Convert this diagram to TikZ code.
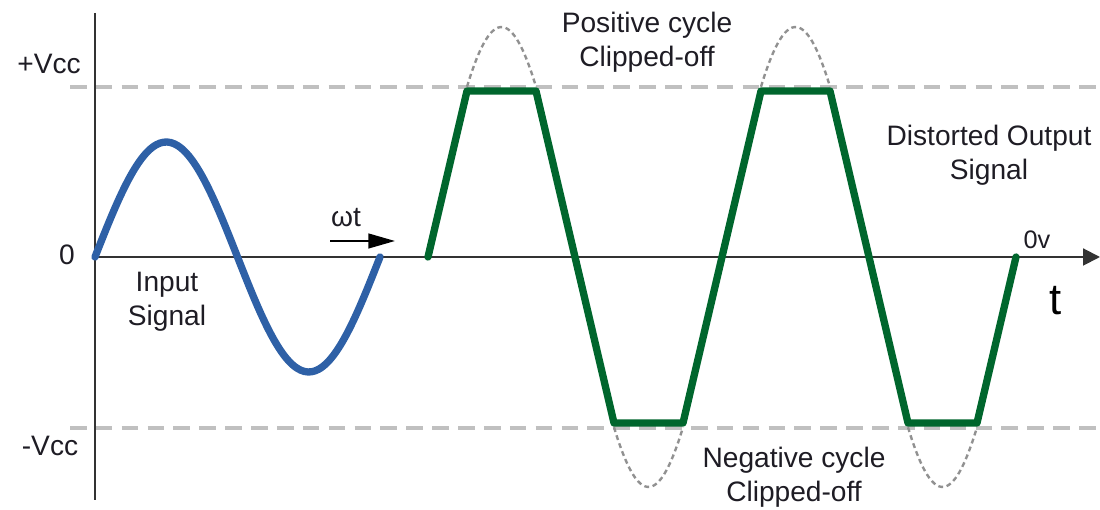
\documentclass[tikz,border=0pt]{standalone}
\usepackage{fontspec}
\setmainfont{Liberation Sans}
\usepackage{xcolor}
\usetikzlibrary{arrows.meta,positioning}

\definecolor{inblue}{RGB}{46,96,166}
\definecolor{outgreen}{RGB}{0,102,45}
\definecolor{railgray}{RGB}{192,192,192}
\definecolor{ghostgray}{RGB}{145,145,145}
\definecolor{labelink}{RGB}{30,28,36}

\begin{document}
\begin{tikzpicture}[x=0.025cm, y=0.025cm, >=Triangle]
    \tikzset{
        axis/.style={draw=black!80, line width=1.4pt},
        rail/.style={draw=railgray, line width=2.2pt, dash pattern=on 11.8pt off 6.6pt},
        ghost/.style={draw=ghostgray, line width=1.7pt, dash pattern=on 3.5pt off 2.5pt},
        insig/.style={draw=inblue, line width=5.2pt, line cap=round},
        outsig/.style={draw=outgreen, line width=5.2pt, line cap=round, line join=round},
        txt/.style={text=labelink, font=\fontsize{20}{24}\selectfont, align=center, inner sep=0pt}
    }
    \useasboundingbox (-95,-253) rectangle (1005,257);

    \coordinate (ytop) at (0,244);
    \coordinate (ybot) at (0,-243);
    \coordinate (origin) at (0,0);
    \coordinate (xend) at (1005,0);
    \coordinate (posL) at (-25,170);
    \coordinate (posR) at (1005,170);
    \coordinate (negL) at (-25,-171);
    \coordinate (negR) at (1005,-171);
    \coordinate (wtail) at (235,16);
    \coordinate (whead) at (300,16);

    \draw [rail] (posL) -- (posR);
    \draw [rail] (negL) -- (negR);
    \draw [axis] (ytop) -- (ybot);
    \draw [axis, -{Triangle[length=12pt, width=12pt]}] (origin) -- (xend);

    \foreach \s in {372,519,666,813}
        \draw [ghost] plot [domain=\s:\s+69, samples=30, smooth] (\x, {230*sin((\x-333)/147*180)});

    \draw [insig] plot [domain=0:285, samples=80, smooth] (\x, {115*sin(\x/285*360)});
    \draw [outsig] (333,0) -- (372,166) -- (441,166) -- (519,-166) -- (588,-166)
        -- (666,166) -- (735,166) -- (813,-166) -- (882,-166) -- (921,0);

    \draw [black, line width=1.5pt, -{Triangle[length=19pt, width=10.5pt]}] (wtail) -- (whead);

    \node [txt] (vpos) at (-46,193) {+Vcc};
    \node [txt] (zero) at (-28,2) {0};
    \node [txt] (vneg) at (-45,-189) {-Vcc};
    \node [txt] (input) at (72,-45) {Input\\Signal};
    \node [txt] (wt) at (251,39) {ωt};
    \node [txt] (poscut) at (552,215) {Positive cycle\\Clipped-off};
    \node [txt] (negcut) at (699,-220) {Negative cycle\\Clipped-off};
    \node [txt] (distort) at (894,102) {Distorted Output\\Signal};
    \node [txt, font=\fontsize{18}{22}\selectfont] (zerov) at (942,17) {0v};
    \node [txt, text=black, font=\fontsize{31}{36}\selectfont] (time) at (961,-44) {t};
\end{tikzpicture}
\end{document}
